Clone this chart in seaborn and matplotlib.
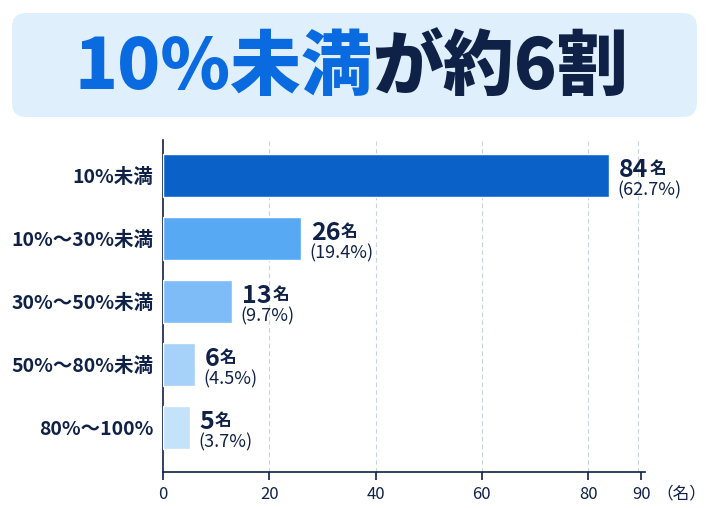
import pandas as pd
import numpy as np
import matplotlib.pyplot as plt
import seaborn as sns
from matplotlib.patches import FancyBboxPatch

categories = ['10%未満', '10%～30%未満', '30%～50%未満', '50%～80%未満', '80%～100%']
counts = [84, 26, 13, 6, 5]
percents = ['62.7%', '19.4%', '9.7%', '4.5%', '3.7%']
colors = ['#0a62c9', '#58a9f4', '#7dbcf6', '#a6d1f8', '#c5e2fb']
xticks = [0, 20, 40, 60, 80, 90]

navy = '#0f2147'

sns.set_style('white')
plt.rcParams['font.family'] = ['Noto Sans CJK JP', 'DejaVu Sans']

df = pd.DataFrame({'range': categories, 'count': counts})

fig = plt.figure(figsize=(7.1, 5.08), dpi=100)
ax = fig.add_axes([163/710, 1-472/508, (645-163)/710, (472-140)/508])

# title box
box = FancyBboxPatch((0.12, (508-117)/100), 6.85, 1.04,
                     boxstyle='round,pad=0,rounding_size=0.14',
                     transform=fig.dpi_scale_trans, facecolor='#dff0fc',
                     edgecolor='none', zorder=0)
fig.patches.append(box)

ty = 1 - 68/508
t1 = fig.text(0.1, ty, '10%未満', fontsize=51, fontweight='black',
              color='#0a6be0', va='center', ha='left')
t2 = fig.text(0, 0, 'が約6割', fontsize=51, fontweight='black', color=navy,
              va='center', ha='left')
fig.canvas.draw()
r = fig.canvas.get_renderer()
w1 = t1.get_window_extent(r).width
w2 = t2.get_window_extent(r).width
start = (710 - (w1 + w2)) / 2 - 4
t1.set_x(start / 710)
t2.set_position(((start + w1) / 710, ty))

sns.barplot(data=df, y='range', x='count', hue='range', palette=colors,
            legend=False, width=0.68, saturation=1, ax=ax, zorder=3)

ax.set_xlim(0, 90.7)
ax.set_ylim(4.7, -0.57)
ax.set_xticks(xticks)
ax.set_xlabel('')
ax.set_ylabel('')
for v in [20, 40, 60, 80, 89.3]:
    ax.axvline(v, color='#c9d3df', lw=0.8, ls=(0, (4, 3)), zorder=1)

for s in ['top', 'right']:
    ax.spines[s].set_visible(False)
for s in ['left', 'bottom']:
    ax.spines[s].set_color(navy)
    ax.spines[s].set_linewidth(1.2)
ax.tick_params(axis='x', colors=navy, labelsize=12, length=6, width=1.2,
               direction='out', bottom=True, pad=4)
ax.tick_params(axis='y', length=0, pad=7)
for lab in ax.get_yticklabels():
    lab.set_fontsize(14)
    lab.set_fontweight('bold')
    lab.set_color(navy)

ax.annotate('（名）', xy=(1.0, 0), xycoords='axes fraction', xytext=(8, -10),
            textcoords='offset points', fontsize=12, color=navy,
            va='top', ha='left')

for i, (c, p) in enumerate(zip(counts, percents)):
    num = ax.annotate(str(c), xy=(c, i), xytext=(7, 4.5), textcoords='offset points',
                      fontsize=18, fontweight='bold', color=navy,
                      va='center', ha='left')
    ax.annotate('名', xy=(1, 0.14), xycoords=num, xytext=(0.5, 0),
                textcoords='offset points', fontsize=12, fontweight='bold',
                color=navy, va='bottom', ha='left')
    ax.annotate('(' + p + ')', xy=(c, i), xytext=(6, -10.5), textcoords='offset points',
                fontsize=13, color=navy, va='center', ha='left')

fig.savefig('out.png', dpi=100)
